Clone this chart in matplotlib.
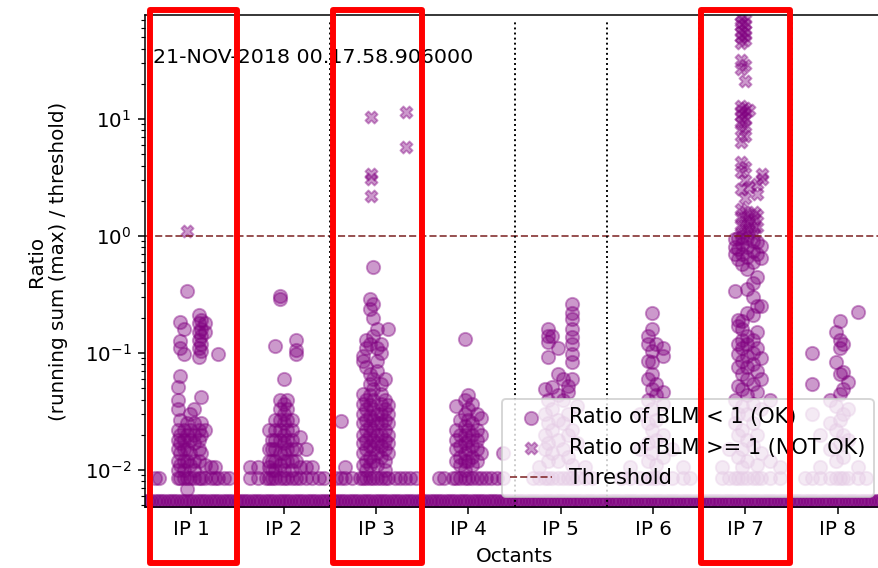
import numpy as np
import matplotlib.pyplot as plt
from matplotlib.patches import Rectangle

plt.rcParams['font.size'] = 10.4

# labels
octants = ['IP 1', 'IP 2', 'IP 3', 'IP 4', 'IP 5', 'IP 6', 'IP 7', 'IP 8']
time_stamp = '21-NOV-2018 00.17.58.906000'
threshold = 1.0

# BLMs sitting at the floor value, all along the ring
floor_ratio = 0.0054
floor_x = np.arange(0.5, 8.52, 0.035)

# (position, [ratios]) for the monitors above the floor, per octant
ip1_ok = [
    (0.61, [0.0085]), (0.65, [0.0085]),
    (0.86, [0.051, 0.040, 0.033, 0.022, 0.018, 0.015, 0.012, 0.010, 0.0085]),
    (0.88, [0.184, 0.127, 0.11, 0.064, 0.027, 0.020, 0.017, 0.014, 0.011, 0.0085]),
    (0.92, [0.16, 0.098, 0.022, 0.018, 0.015, 0.012, 0.010, 0.0085]),
    (0.96, [0.34, 0.025, 0.020, 0.015, 0.012, 0.0085, 0.0069]),
    (0.99, [0.030, 0.022, 0.018, 0.014, 0.011, 0.0085]),
    (1.03, [0.033, 0.025, 0.020, 0.017, 0.012, 0.010, 0.0085]),
    (1.08, [0.21, 0.18, 0.15, 0.13, 0.11, 0.093, 0.022, 0.018, 0.015, 0.012, 0.0085]),
    (1.11, [0.19, 0.16, 0.14, 0.12, 0.104, 0.042, 0.025, 0.020, 0.014, 0.0085]),
    (1.15, [0.18, 0.15, 0.022, 0.011, 0.0085]),
    (1.21, [0.0107, 0.0085]), (1.26, [0.0107, 0.0085]),
    (1.29, [0.098, 0.0085]), (1.36, [0.0085]), (1.41, [0.0085]),
]
ip1_bad = [(0.96, [1.1])]

ip2_ok = [
    (1.64, [0.0107, 0.0085]), (1.72, [0.0107, 0.0085]), (1.81, [0.0085]),
    (1.84, [0.022, 0.015, 0.012, 0.0107, 0.0085]),
    (1.88, [0.018, 0.015, 0.012, 0.010, 0.0085]),
    (1.91, [0.115, 0.027, 0.022, 0.018, 0.015, 0.012, 0.010, 0.0085]),
    (1.96, [0.31, 0.29, 0.040, 0.033, 0.027, 0.022, 0.018, 0.014, 0.011, 0.0085]),
    (2.00, [0.060, 0.037, 0.030, 0.025, 0.020, 0.017, 0.014, 0.012, 0.010, 0.0085]),
    (2.04, [0.040, 0.033, 0.027, 0.022, 0.018, 0.015, 0.012, 0.0085]),
    (2.09, [0.027, 0.022, 0.018, 0.015, 0.012, 0.010, 0.0085]),
    (2.13, [0.13, 0.106, 0.098, 0.015, 0.012, 0.0085]),
    (2.18, [0.019, 0.0107, 0.0085]), (2.24, [0.015, 0.0107, 0.0085]),
    (2.31, [0.0107, 0.0085]), (2.38, [0.0085]), (2.44, [0.0085]),
]

ip3_ok = [
    (2.57, [0.0085]), (2.62, [0.026, 0.0085]), (2.66, [0.0107, 0.0085]),
    (2.74, [0.0085]), (2.83, [0.0085]),
    (2.86, [0.094, 0.085, 0.045, 0.037, 0.030, 0.025, 0.020, 0.017, 0.014, 0.011, 0.0085]),
    (2.89, [0.13, 0.11, 0.076, 0.040, 0.033, 0.027, 0.022, 0.018, 0.015, 0.012, 0.010, 0.0085]),
    (2.94, [0.29, 0.24, 0.12, 0.066, 0.054, 0.044, 0.036, 0.029, 0.024, 0.020, 0.016, 0.013, 0.011, 0.0085]),
    (2.97, [0.54, 0.26, 0.20, 0.14, 0.060, 0.049, 0.040, 0.033, 0.027, 0.022, 0.018, 0.015, 0.012, 0.0085]),
    (3.01, [0.16, 0.11, 0.085, 0.070, 0.030, 0.025, 0.020, 0.017, 0.014, 0.011, 0.0085]),
    (3.05, [0.12, 0.10, 0.054, 0.045, 0.037, 0.030, 0.025, 0.020, 0.016, 0.013, 0.0085]),
    (3.10, [0.060, 0.040, 0.033, 0.027, 0.022, 0.018, 0.015, 0.012, 0.010, 0.0085]),
    (3.13, [0.16, 0.036, 0.030, 0.025, 0.020, 0.017, 0.014, 0.0085]),
    (3.21, [0.0085]), (3.26, [0.0085]), (3.31, [0.0085]), (3.37, [0.0085]), (3.43, [0.0085]),
]
ip3_bad = [(2.95, [10.4, 3.4, 3.1, 2.2]), (3.33, [11.5, 5.8])]

ip4_ok = [
    (3.68, [0.0085]), (3.74, [0.0085]), (3.83, [0.0085]),
    (3.87, [0.035, 0.022, 0.018, 0.015, 0.012, 0.0085]),
    (3.91, [0.027, 0.020, 0.016, 0.013, 0.011, 0.0085]),
    (3.96, [0.132, 0.040, 0.030, 0.024, 0.020, 0.017, 0.014, 0.012, 0.010, 0.0085]),
    (4.00, [0.044, 0.033, 0.027, 0.022, 0.018, 0.015, 0.012, 0.0085]),
    (4.04, [0.037, 0.025, 0.020, 0.016, 0.013, 0.011, 0.0085]),
    (4.09, [0.030, 0.022, 0.018, 0.015, 0.012, 0.0085]),
    (4.14, [0.028, 0.020, 0.014, 0.0085]),
    (4.19, [0.0085]), (4.25, [0.0085]), (4.31, [0.0085]), (4.38, [0.014, 0.0085]),
]

ip5_ok = [
    (4.70, [0.0085]), (4.77, [0.0107, 0.0085]),
    (4.83, [0.049, 0.030, 0.020, 0.015, 0.0085]),
    (4.86, [0.16, 0.14, 0.125, 0.093, 0.040, 0.025, 0.017, 0.012, 0.0085]),
    (4.91, [0.14, 0.051, 0.033, 0.022, 0.014, 0.0085]),
    (4.97, [0.11, 0.066, 0.044, 0.027, 0.018, 0.012, 0.0085]),
    (5.02, [0.060, 0.040, 0.025, 0.015, 0.0085]),
    (5.08, [0.052, 0.046, 0.030, 0.020, 0.013, 0.0085]),
    (5.12, [0.26, 0.22, 0.195, 0.16, 0.137, 0.12, 0.098, 0.084, 0.060, 0.022, 0.011, 0.0085]),
    (5.18, [0.035, 0.017, 0.0085]), (5.26, [0.0107, 0.0085]), (5.34, [0.0085]),
]

ip6_ok = [
    (5.65, [0.0085]), (5.75, [0.0107, 0.0085]), (5.86, [0.030, 0.015, 0.0085]),
    (5.95, [0.14, 0.12, 0.085, 0.060, 0.040, 0.025, 0.017, 0.012, 0.0085]),
    (5.99, [0.22, 0.16, 0.104, 0.083, 0.066, 0.049, 0.033, 0.022, 0.014, 0.0085]),
    (6.03, [0.12, 0.054, 0.044, 0.027, 0.018, 0.011, 0.0085]),
    (6.11, [0.11, 0.094, 0.046, 0.037, 0.020, 0.013, 0.0085]),
    (6.21, [0.015, 0.0085]), (6.32, [0.0107, 0.0085]), (6.40, [0.0085]),
]

ip7_ok = [
    (6.75, [0.0107, 0.0085]), (6.82, [0.015, 0.0085]),
    (6.89, [0.94, 0.80, 0.70, 0.34, 0.040, 0.025, 0.0085]),
    (6.92, [0.96, 0.77, 0.64, 0.19, 0.17, 0.12, 0.098, 0.076, 0.052, 0.030, 0.020, 0.013, 0.0085]),
    (6.96, [0.98, 0.85, 0.70, 0.58, 0.187, 0.16, 0.13, 0.11, 0.085, 0.066, 0.049, 0.035, 0.022, 0.015, 0.0107, 0.0085]),
    (7.02, [0.96, 0.80, 0.66, 0.52, 0.35, 0.22, 0.14, 0.12, 0.094, 0.076, 0.060, 0.044, 0.030, 0.018, 0.012, 0.0085]),
    (7.08, [0.90, 0.74, 0.60, 0.40, 0.30, 0.21, 0.13, 0.10, 0.080, 0.054, 0.037, 0.025, 0.016, 0.0085]),
    (7.13, [0.88, 0.70, 0.45, 0.25, 0.15, 0.11, 0.070, 0.046, 0.020, 0.011, 0.0085]),
    (7.17, [0.82, 0.65, 0.25, 0.090, 0.060, 0.033, 0.014, 0.0085]),
    (7.27, [0.040, 0.012, 0.0085]), (7.37, [0.0107, 0.0085]),
]
ip7_bad = [
    (6.95, [76, 68, 62, 55, 50, 45, 32, 27, 13.0, 11.7, 10.6, 9.4, 8.0, 6.4, 4.3, 3.5, 2.5, 1.7, 1.45, 1.24, 1.06]),
    (7.00, [72, 65, 58, 52, 47, 29, 21, 12.4, 11.2, 10.0, 8.7, 7.2, 3.9, 3.0, 2.1, 1.6, 1.34, 1.15]),
    (7.04, [12.0, 2.6, 1.5, 1.3, 1.1]),
    (7.09, [1.6, 1.4, 1.2, 1.05]),
    (7.13, [2.8, 2.3, 1.5, 1.2]),
    (7.18, [3.4, 3.1]),
]

ip8_ok = [
    (7.65, [0.0085]),
    (7.72, [0.10, 0.054, 0.030, 0.0085]),
    (7.81, [0.020, 0.0107, 0.0085]),
    (7.92, [0.040, 0.025, 0.015, 0.0085]),
    (7.98, [0.15, 0.084, 0.035, 0.022, 0.012, 0.0085]),
    (8.02, [0.187, 0.13, 0.11, 0.066, 0.045, 0.027, 0.017, 0.0085]),
    (8.06, [0.12, 0.069, 0.049, 0.030, 0.020, 0.013, 0.0085]),
    (8.11, [0.056, 0.033, 0.018, 0.0085]),
    (8.22, [0.224, 0.0107, 0.0085]), (8.30, [0.0085]),
]


def flatten(cols):
    xs, ys = [], []
    for pos, vals in cols:
        xs += [pos] * len(vals)
        ys += vals
    return xs, ys


ok_x, ok_y = flatten(ip1_ok + ip2_ok + ip3_ok + ip4_ok + ip5_ok + ip6_ok + ip7_ok + ip8_ok)
bad_x, bad_y = flatten(ip1_bad + ip3_bad + ip7_bad)
ok_x = list(floor_x) + ok_x
ok_y = [floor_ratio] * len(floor_x) + ok_y

fig = plt.figure(figsize=(878 / 138, 568 / 138), dpi=138)
ax = fig.add_axes([145 / 878, 61 / 568, 739 / 878, 492 / 568])

ax.scatter(ok_x, ok_y, s=48, color='purple', alpha=0.4, label='Ratio of BLM < 1 (OK)')
ax.scatter(bad_x, bad_y, s=40, marker='X', color='purple', alpha=0.4,
           label='Ratio of BLM >= 1 (NOT OK)')
ax.axhline(threshold, color='#7a1f1f', ls='--', lw=1, alpha=0.8, label='Threshold')

# octant boundaries
ax.vlines(np.arange(1.5, 8.5, 1.0), 0.004, 68, colors='k', linestyles=':', lw=1)

ax.set_yscale('log')
ax.set_ylim(0.00483, 77.4)
ax.set_xlim(0.5, 8.5)
ax.set_xticks(range(1, 9))
ax.set_xticklabels(octants)
ax.set_xlabel('Octants')
ax.set_ylabel('Ratio\n(running sum (max) / threshold)', labelpad=9)
ax.text(0.011, 0.913, time_stamp, transform=ax.transAxes, va='center', fontsize=10.7)
ax.legend(loc='lower right', fontsize=10.9)

# red highlight boxes around IP 1, IP 3 and IP 7
for x0, x1 in [(150, 237), (333, 422), (701, 790)]:
    fig.add_artist(Rectangle((x0 / 878, 1 - 563 / 568), (x1 - x0) / 878, 553 / 568,
                             transform=fig.transFigure, fill=False, ec='red',
                             lw=3.1, joinstyle='round', zorder=10))

plt.savefig('out.png', dpi=138)
